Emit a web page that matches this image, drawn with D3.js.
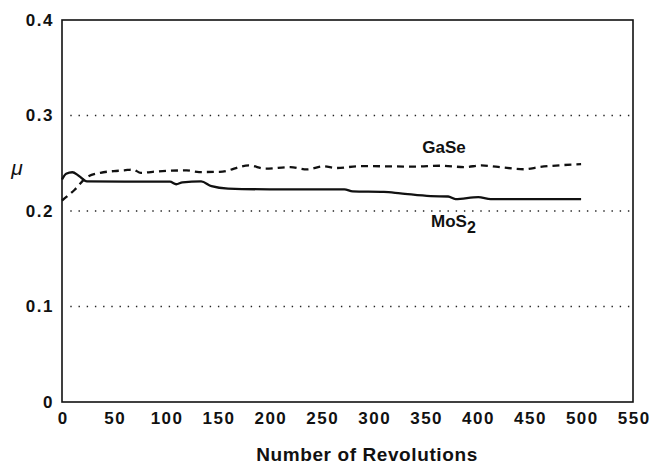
<!DOCTYPE html>
<html>
<head>
<meta charset="utf-8">
<script src="https://cdn.jsdelivr.net/npm/d3@7"></script>
<style>
  body { margin: 0; background: #fff; }
  text { font-family: "Liberation Sans", Arial, sans-serif; fill: #111; }
</style>
</head>
<body>
<script>
// revolutions / friction coefficient
var mosRev = [0, 4, 10, 16, 24, 60, 104, 110, 116, 134, 144, 160, 200, 272, 280, 310, 326, 355, 372, 379, 401, 413, 500];
var mosMu  = [0.233, 0.239, 0.2406, 0.237, 0.231, 0.2307, 0.2307, 0.228, 0.230, 0.231, 0.226, 0.2235, 0.2227, 0.2227, 0.2206, 0.220, 0.2185, 0.2156, 0.2152, 0.2125, 0.2146, 0.2125, 0.2125];

var gaseRev = [0, 12, 24, 37, 50, 60, 68, 76, 92, 120, 132, 152, 180, 196, 220, 236, 252, 264, 288, 340, 364, 388, 404, 420, 445, 460, 500];
var gaseMu  = [0.211, 0.222, 0.2355, 0.240, 0.2418, 0.2425, 0.2435, 0.2400, 0.2415, 0.2425, 0.2408, 0.241, 0.2477, 0.2443, 0.246, 0.2435, 0.2467, 0.245, 0.247, 0.2465, 0.2474, 0.246, 0.2477, 0.2462, 0.2437, 0.246, 0.249];

var xTicks = [0, 50, 100, 150, 200, 250, 300, 350, 400, 450, 500, 550];
var yTicks = [0, 0.1, 0.2, 0.3, 0.4];
var gridLevels = [0.1, 0.2, 0.3];

var width = 650, height = 464;
var margin = {left: 62, right: 17, top: 20, bottom: 62};

var svg = d3.select("body").append("svg")
    .attr("width", width)
    .attr("height", height);

var x = d3.scaleLinear().domain([0, 550]).range([margin.left, width - margin.right]);
var y = d3.scaleLinear().domain([0, 0.4]).range([height - margin.bottom, margin.top]);

// dotted grid
svg.selectAll(".grid")
    .data(gridLevels)
  .enter().append("line")
    .attr("class", "grid")
    .attr("x1", x(8)).attr("x2", x(550) - 2)
    .attr("y1", function(d){ return y(d); })
    .attr("y2", function(d){ return y(d); })
    .style("stroke", "#222")
    .style("stroke-width", 1.4)
    .style("stroke-dasharray", "1.4,6.8");

// frame
svg.append("rect")
    .attr("x", x(0)).attr("y", y(0.4))
    .attr("width", x(550) - x(0))
    .attr("height", y(0) - y(0.4))
    .style("fill", "none")
    .style("stroke", "#111")
    .style("stroke-width", 1.6);

// axes without tick marks
var xAxis = svg.append("g")
    .attr("transform", "translate(0," + y(0) + ")")
    .call(d3.axisBottom(x).tickValues(xTicks).tickSize(0).tickPadding(10).tickFormat(d3.format("d")));
var yAxis = svg.append("g")
    .attr("transform", "translate(" + x(0) + ",0)")
    .call(d3.axisLeft(y).tickValues(yTicks).tickSize(0).tickPadding(8)
      .tickFormat(function(d){ return d === 0 ? "0" : d3.format(".1f")(d); }));
[xAxis, yAxis].forEach(function(a){
  a.select(".domain").remove();
  a.selectAll("text")
    .style("font-size", "17px")
    .style("font-weight", "bold")
    .style("letter-spacing", "1.5px")
    .style("font-family", "'Liberation Sans', Arial, sans-serif")
    .style("fill", "#111");
});
xAxis.selectAll("text").attr("dx", "0.75px");

var line = d3.line()
    .x(function(d){ return x(d[0]); })
    .y(function(d){ return y(d[1]); })
    .curve(d3.curveMonotoneX);

svg.append("path")
    .datum(mosRev.map(function(r, i){ return [r, mosMu[i]]; }))
    .attr("d", line)
    .style("fill", "none")
    .style("stroke", "#111")
    .style("stroke-width", 2.3);

svg.append("path")
    .datum(gaseRev.map(function(r, i){ return [r, gaseMu[i]]; }))
    .attr("d", line)
    .style("fill", "none")
    .style("stroke", "#111")
    .style("stroke-width", 2.3)
    .style("stroke-dasharray", "7,5");

// series labels
svg.append("text")
    .attr("x", 444).attr("y", 153)
    .attr("text-anchor", "middle")
    .style("font-size", "17px")
    .style("font-weight", "bold")
    .text("GaSe");

var mos = svg.append("text")
    .attr("x", 431).attr("y", 227)
    .style("font-size", "17px")
    .style("font-weight", "bold");
mos.append("tspan").text("MoS");
mos.append("tspan").attr("dy", 6).style("font-size", "16px").text("2");

// axis titles
svg.append("text")
    .attr("x", 17).attr("y", 175)
    .attr("text-anchor", "middle")
    .style("font-size", "21px")
    .style("font-style", "italic")
    .text("μ");

svg.append("text")
    .attr("x", 367).attr("y", 461)
    .attr("text-anchor", "middle")
    .style("font-size", "19px")
    .style("font-weight", "bold")
    .style("letter-spacing", "0.6px")
    .text("Number of Revolutions");
</script>
</body>
</html>
